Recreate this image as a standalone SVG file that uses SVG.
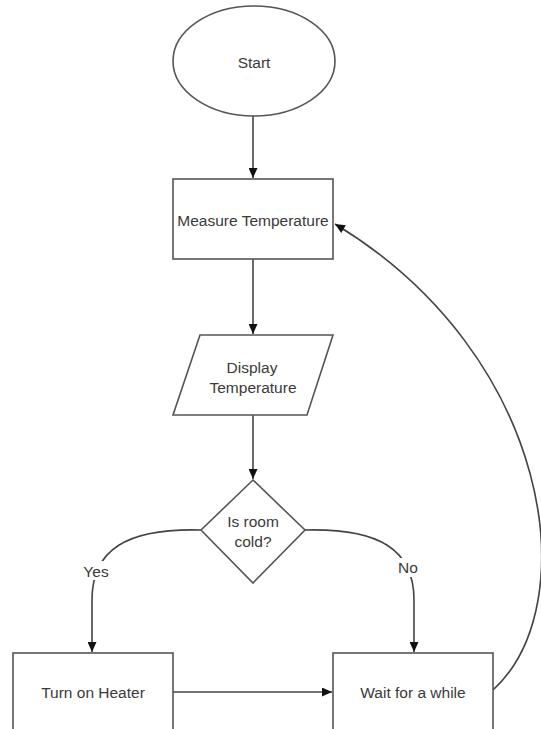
<svg xmlns="http://www.w3.org/2000/svg" width="541" height="729" viewBox="0 0 541 729">
  <style>
    .shape { fill: #ffffff; stroke: #555555; stroke-width: 1.6; }
    .edge { fill: none; stroke: #444444; stroke-width: 1.6; }
    .lbl { font-family: "Liberation Sans", Arial, sans-serif; font-size: 15.5px; fill: #3a3a3a; text-anchor: middle; dominant-baseline: central; }
  </style>
  <defs>
    <marker id="arrow" viewBox="0 0 10 9" refX="10" refY="4.5" markerWidth="10" markerHeight="9" markerUnits="userSpaceOnUse" orient="auto">
      <path d="M0,0 L10,4.5 L0,9 z" fill="#111111"/>
    </marker>
  </defs>
  <rect x="0" y="0" width="541" height="729" fill="#ffffff"/>

  <g id="connectors">
    <path class="edge" d="M253,116 L253,178" marker-end="url(#arrow)"/>
    <path class="edge" d="M253,259 L253,334" marker-end="url(#arrow)"/>
    <path class="edge" d="M253,415 L253,479" marker-end="url(#arrow)"/>
    <path class="edge" d="M201,530 C126,528 92,550 92,600 L92,652" marker-end="url(#arrow)"/>
    <path class="edge" d="M305,530 C380,528 414,550 414,600 L414,652" marker-end="url(#arrow)"/>
    <path class="edge" d="M173,692 L332,692" marker-end="url(#arrow)"/>
    <path class="edge" d="M493,690 C586,605 552,355 335,224" marker-end="url(#arrow)"/>
    <rect x="80" y="561" width="32" height="19" fill="#ffffff"/>
    <text class="lbl" x="96" y="571">Yes</text>
    <rect x="395" y="558" width="27" height="19" fill="#ffffff"/>
    <text class="lbl" x="408" y="567">No</text>
  </g>

  <g id="start">
    <ellipse class="shape" cx="254" cy="61" rx="81" ry="55"/>
    <text class="lbl" x="254" y="62">Start</text>
  </g>

  <g id="measure">
    <rect class="shape" x="173" y="179" width="160" height="80"/>
    <text class="lbl" x="253" y="220">Measure Temperature</text>
  </g>

  <g id="display">
    <polygon class="shape" points="200,335 333,335 307,415 173,415"/>
    <text class="lbl" x="252" y="367">Display</text>
    <text class="lbl" x="253" y="387">Temperature</text>
  </g>

  <g id="decision">
    <polygon class="shape" points="253,480 305,530 253,583 201,530"/>
    <text class="lbl" x="253" y="521">Is room</text>
    <text class="lbl" x="253" y="541">cold?</text>
  </g>

  <g id="heater">
    <rect class="shape" x="13" y="653" width="160" height="90"/>
    <text class="lbl" x="93" y="692">Turn on Heater</text>
  </g>

  <g id="wait">
    <rect class="shape" x="333" y="653" width="160" height="90"/>
    <text class="lbl" x="413" y="692">Wait for a while</text>
  </g>
</svg>
